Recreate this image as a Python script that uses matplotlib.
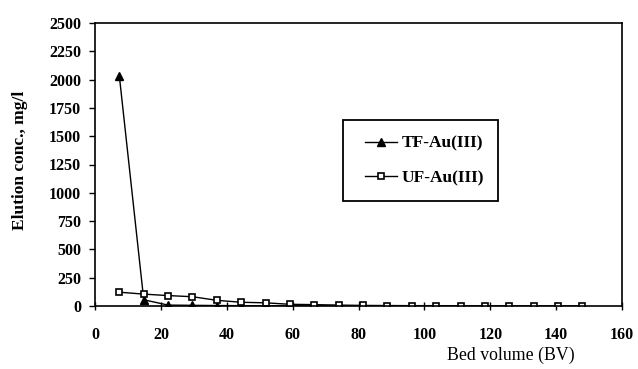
import matplotlib
matplotlib.use("Agg")
import matplotlib.pyplot as plt
from matplotlib.patches import Rectangle

# bed volume (BV) sampling points
bv = [7.4, 14.8, 22.2, 29.6, 37.0, 44.4, 51.8, 59.2, 66.6, 74.0,
      81.4, 88.8, 96.2, 103.6, 111.0, 118.4, 125.8, 133.2, 140.6, 148.0]
tf_bv = bv[:10]
tf_conc = [2030, 55, 8, 6, 4, 3, 2, 2, 1, 1]
uf_conc = [122, 105, 92, 82, 50, 33, 28, 15, 12, 8,
           5, 4, 3, 3, 2, 2, 2, 1, 1, 1]

plt.rcParams['font.family'] = ['Liberation Serif', 'DejaVu Serif']

W, H = 638, 369
fig = plt.figure(figsize=(W / 100, H / 100), dpi=100)
ax = fig.add_axes([95 / W, 1 - 306 / H, 527 / W, 283 / H])

ax.plot(tf_bv, tf_conc, color='black', lw=1.0, marker='^', ms=5.5,
        mfc='black', mec='black', label='TF-Au(III)')
ax.plot(bv, uf_conc, color='black', lw=1.0, marker='s', ms=5,
        mfc='white', mec='black', mew=1.2, label='UF-Au(III)')

ax.set_xlim(0, 160)
ax.set_ylim(0, 2500)
ax.set_xticks(range(0, 161, 20))
ax.set_yticks(range(0, 2501, 250))
for lbl in ax.get_xticklabels() + ax.get_yticklabels():
    lbl.set_fontweight('bold')
    lbl.set_fontsize(11.5)
ax.tick_params(axis='y', direction='out', length=4, width=1, pad=6)
ax.tick_params(axis='x', direction='inout', length=6, width=1, pad=12)
for s in ax.spines.values():
    s.set_linewidth(1.2)

fig.text(20 / W, 1 - 160 / H, 'Elution conc., mg/l', fontsize=12.5,
         fontweight='bold', rotation=90, ha='center', va='center')
fig.text(511 / W, 1 - 355 / H, 'Bed volume (BV)', fontsize=12.8,
         ha='center', va='center')

# legend entries without frame, box drawn separately
leg = ax.legend(loc='center left', bbox_to_anchor=(365 / W, 1 - 161 / H),
                bbox_transform=fig.transFigure, frameon=False,
                prop={'size': 12.5, 'weight': 'bold'},
                handlelength=1.85, handletextpad=0.25,
                labelspacing=1.05, borderpad=0, borderaxespad=0)
fig.patches.append(Rectangle((343 / W, 1 - 201 / H), 155 / W, 81 / H,
                             transform=fig.transFigure, fill=False,
                             edgecolor='black', lw=1.3))

fig.savefig('out.png', dpi=100)
